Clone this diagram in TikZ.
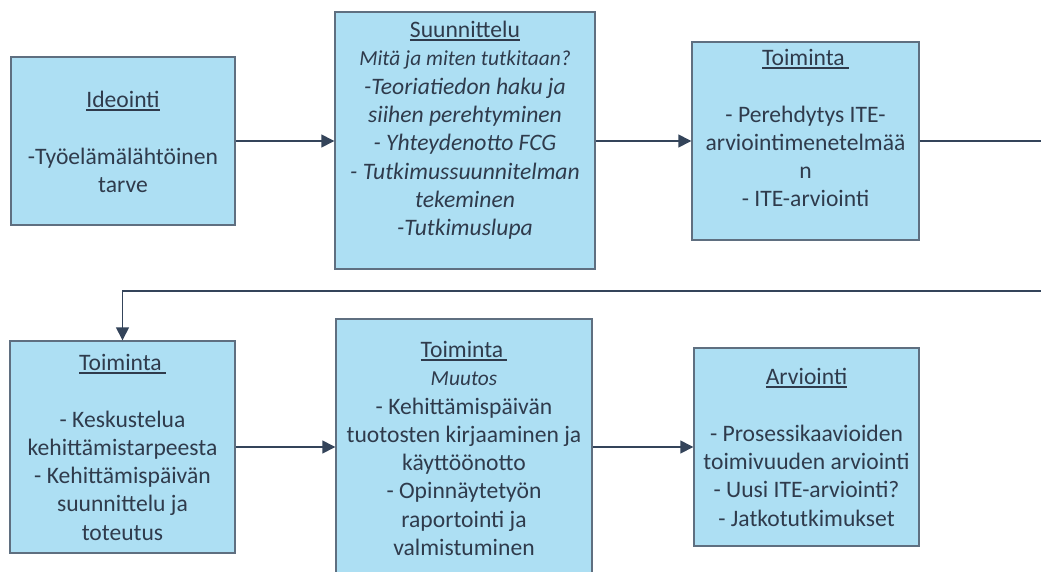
\documentclass[tikz,border=0pt]{standalone}
\usepackage{fontspec}
\setmainfont{Carlito}
\usetikzlibrary{arrows.meta,calc}

\definecolor{boxfill}{HTML}{ADDFF3}
\definecolor{boxline}{HTML}{5F6F80}
\definecolor{ink}{HTML}{2F3B4C}
\definecolor{wire}{HTML}{34445A}

% underlined heading with a thicker rule
\newcommand\hd[1]{\setbox0\hbox{#1}\rlap{\raisebox{-3.4pt}{\rule{\wd0}{1.7pt}}}\box0}
\newcommand\sub[1]{{\fontsize{21.4pt}{28.3pt}\selectfont\itshape #1}}

\tikzset{
  stagebox/.style={draw=boxline, fill=boxfill, line width=1.4pt, inner sep=0pt},
  stagetext/.style={text=ink, align=center, inner sep=0pt, anchor=north,
    font=\fontsize{23.6pt}{28.3pt}\selectfont},
  conn/.style={draw=wire, line width=1.4pt, -{Triangle[length=13pt,width=13pt]}},
}

\begin{document}
\begin{tikzpicture}[x=1pt,y=-1pt]
\useasboundingbox (0,0) rectangle (1041,571);
\fill[white] (0,0) rectangle (1041,571);
\clip (0,0) rectangle (1041,571);

% stage boxes
\node[stagebox, minimum width=224pt, minimum height=168pt] (b1) at (123,141) {};
\node[stagebox, minimum width=260pt, minimum height=257pt] (b2) at (465,140.5) {};
\node[stagebox, minimum width=227pt, minimum height=198pt] (b3) at (805.5,141) {};
\node[stagebox, minimum width=225pt, minimum height=212pt] (b4) at (122.5,447) {};
\node[stagebox, minimum width=256pt, minimum height=280pt] (b5) at (464,459) {};
\node[stagebox, minimum width=225pt, minimum height=198pt] (b6) at (806.5,447) {};

% box texts
\node[stagetext] (t1) at (123,91) {\hd{Ideointi}\\[28.3pt]-Työelämälähtöinen\\tarve};
\node[stagetext] (t2) at (465,21) {\hd{Suunnittelu}\\
  \sub{Mitä ja miten tutkitaan?}\\
  \itshape -Teoriatiedon haku ja\\\itshape siihen perehtyminen\\
  \itshape - Yhteydenotto FCG\\\itshape - Tutkimussuunnitelman\\
  \itshape tekeminen\\\itshape -Tutkimuslupa};
\node[stagetext] (t3) at (805.5,49) {\hd{Toiminta\kern4pt}\\[28.3pt]- Perehdytys ITE-\\arviointimenetelmää\\n\\- ITE-arviointi};
\node[stagetext] (t4) at (122.5,354) {\hd{Toiminta\kern4pt}\\[28.3pt]- Keskustelua\\kehittämistarpeesta\\- Kehittämispäivän\\suunnittelu ja\\toteutus};
\node[stagetext] (t5) at (464,341) {\hd{Toiminta\kern4pt}\\\sub{Muutos}\\- Kehittämispäivän\\tuotosten kirjaaminen ja\\käyttöönotto\\- Opinnäytetyön\\raportointi ja\\valmistuminen};
\node[stagetext] (t6) at (806.5,368) {\hd{Arviointi}\\[28.3pt]- Prosessikaavioiden\\toimivuuden arviointi\\- Uusi ITE-arviointi?\\- Jatkotutkimukset};

% connectors
\draw[conn] (b1.east) -- (b1.east -| b2.west);
\draw[conn] (b2.east |- b3.west) -- (b3.west);
\coordinate (r1) at (1060,141);
\coordinate (r2) at (1060,291);
\draw[conn] (b3.east) -- (r1) -- (r2) -| (b4.north);
\draw[conn] (b4.east) -- (b4.east -| b5.west);
\draw[conn] (b5.east |- b6.west) -- (b6.west);
\end{tikzpicture}
\end{document}
